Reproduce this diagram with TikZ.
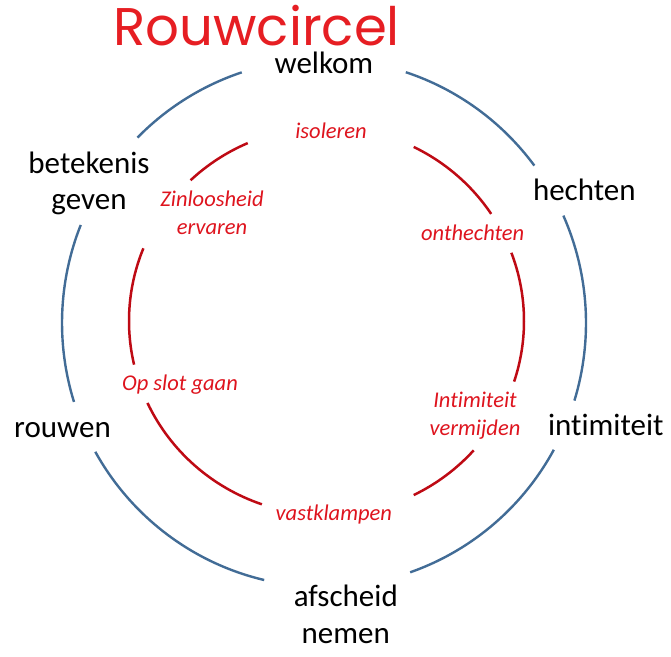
\documentclass[tikz,border=0pt]{standalone}
\usepackage{fontspec}
\setmainfont{Carlito}[Ligatures=NoCommon]
\newfontfamily\titlefont{Poppins}
\definecolor{outerblue}{RGB}{66,108,150}
\definecolor{innerred}{RGB}{190,10,20}
\definecolor{labelred}{RGB}{222,20,30}
\definecolor{titlered}{RGB}{230,30,35}
\tikzset{
  outerarc/.style={draw=outerblue, line width=2.4pt},
  innerarc/.style={draw=innerred, line width=2.5pt},
  blacklabel/.style={inner sep=0pt, anchor=base, align=center, font=\fontsize{31}{36.7}\selectfont},
  redlabel/.style={inner sep=0pt, anchor=base, align=center, text=labelred, font=\fontsize{22.5}{28}\selectfont\itshape},
  titlelabel/.style={inner sep=0pt, anchor=base, text=titlered, font=\titlefont\fontsize{53}{60}\selectfont}
}
\begin{document}
\begin{tikzpicture}[x=1pt,y=1pt]
\useasboundingbox (0,0) rectangle (671,656);
\coordinate (oc) at (324,333);
\coordinate (ic) at (326.5,335);
% outer arcs
\draw[outerarc] (oc) ++(108.3:262pt and 264pt) arc[start angle=108.3, end angle=135.4, x radius=262pt, y radius=264pt];
\draw[outerarc] (oc) ++(71.8:262pt and 264pt) arc[start angle=71.8, end angle=36.6, x radius=262pt, y radius=264pt];
\draw[outerarc] (oc) ++(24.0:262pt and 264pt) arc[start angle=24.0, end angle=-17.1, x radius=262pt, y radius=264pt];
\draw[outerarc] (oc) ++(-28.7:262pt and 264pt) arc[start angle=-28.7, end angle=-70.8, x radius=262pt, y radius=264pt];
\draw[outerarc] (oc) ++(-103.2:262pt and 264pt) arc[start angle=-103.2, end angle=-150.8, x radius=262pt, y radius=264pt];
\draw[outerarc] (oc) ++(158.2:262pt and 264pt) arc[start angle=158.2, end angle=197.4, x radius=262pt, y radius=264pt];
% inner arcs
\draw[innerarc] (ic) ++(113.5:197.5pt and 194pt) arc[start angle=113.5, end angle=133.5, x radius=197.5pt, y radius=194pt];
\draw[innerarc] (ic) ++(63.8:197.5pt and 194pt) arc[start angle=63.8, end angle=33.5, x radius=197.5pt, y radius=194pt];
\draw[innerarc] (ic) ++(20.6:197.5pt and 194pt) arc[start angle=20.6, end angle=-18.2, x radius=197.5pt, y radius=194pt];
\draw[innerarc] (ic) ++(-41.8:197.5pt and 194pt) arc[start angle=-41.8, end angle=-63.8, x radius=197.5pt, y radius=194pt];
\draw[innerarc] (ic) ++(-109.1:197.5pt and 194pt) arc[start angle=-109.1, end angle=-155, x radius=197.5pt, y radius=194pt];
\draw[innerarc] (ic) ++(158:197.5pt and 194pt) arc[start angle=158, end angle=193, x radius=197.5pt, y radius=194pt];
% title
\node[titlelabel] (title) at (256.7,610.5) {Rouwcircel};
% outer labels
\node[blacklabel] (welkom) at (323.9,582) {welkom};
\node[blacklabel] (betekenis) at (89,446) {betekenis\\geven};
\node[blacklabel] (hechten) at (584.3,455) {hechten};
\node[blacklabel] (rouwen) at (62.5,218.7) {rouwen};
\node[blacklabel] (intimiteit) at (605.8,221) {intimiteit};
\node[blacklabel] (afscheid) at (345.8,12.7) {afscheid\\nemen};
% inner labels
\node[redlabel] (isoleren) at (331,517.7) {isoleren};
\node[redlabel] (zinloosheid) at (212,421) {Zinloosheid\\ervaren};
\node[redlabel] (onthechten) at (472.7,415.3) {onthechten};
\node[redlabel] (opslot) at (180,265.3) {Op slot gaan};
\node[redlabel] (vermijden) at (475,221) {Intimiteit\\vermijden};
\node[redlabel] (vastklampen) at (333.8,136) {vastklampen};
\end{tikzpicture}
\end{document}
